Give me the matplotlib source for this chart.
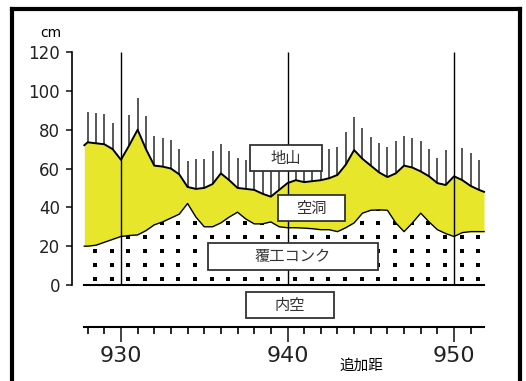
import numpy as np
import matplotlib
matplotlib.use('Agg')
from matplotlib import pyplot as plt
from matplotlib.lines import Line2D
from matplotlib.patches import Rectangle

JP = ['Noto Sans CJK JP', 'DejaVu Sans']

# station (m) of each measuring point
stations = [927.8, 928.0, 928.5, 929.0, 929.5, 930.0, 930.5, 931.0, 931.5, 932.0,
            932.5, 933.0, 933.5, 934.0, 934.5, 935.0, 935.5, 936.0, 936.5, 937.0,
            937.5, 938.0, 938.5, 939.0, 939.5, 940.0, 940.5, 941.0, 941.5, 942.0,
            942.5, 943.0, 943.5, 944.0, 944.5, 945.0, 945.5, 946.0, 946.5, 947.0,
            947.5, 948.0, 948.5, 949.0, 949.5, 950.0, 950.5, 951.0, 951.5, 951.8]

# top of cavity (ground surface), cm
upper = [72.0, 73.5, 73.0, 72.5, 70.0, 64.5, 72.0, 80.0, 70.0, 61.5,
         61.0, 60.0, 57.0, 50.5, 49.5, 50.0, 52.0, 57.5, 54.0, 50.0,
         49.5, 49.0, 47.0, 45.5, 49.0, 52.5, 54.0, 53.0, 53.5, 54.0,
         55.0, 56.7, 62.0, 69.5, 65.0, 61.5, 58.0, 55.6, 57.5, 61.5,
         60.5, 58.5, 56.0, 52.5, 51.5, 56.0, 54.0, 51.0, 49.0, 48.0]

# lining concrete thickness, cm
lower = [20.0, 20.0, 20.5, 22.0, 23.5, 25.0, 25.5, 25.8, 28.0, 31.0,
         32.5, 34.5, 36.5, 42.0, 35.0, 30.0, 30.0, 32.0, 35.0, 37.5,
         34.0, 31.5, 31.5, 32.5, 30.0, 29.5, 29.5, 29.3, 29.0, 28.5,
         28.5, 27.5, 29.5, 32.0, 37.0, 38.5, 38.7, 38.5, 32.0, 27.5,
         32.0, 37.0, 32.5, 28.5, 26.5, 25.0, 27.0, 27.5, 27.5, 27.5]

# max. reading of each point (thin lines)
line_st = [928.0, 928.5, 929.0, 929.5, 930.5, 931.0, 931.5, 932.0, 932.5, 933.0,
           933.5, 934.0, 934.5, 935.0, 935.5, 936.0, 936.5, 937.0, 937.5, 938.0,
           938.5, 939.0, 939.5, 940.5, 941.0, 941.5, 942.0, 942.5, 943.0, 943.5,
           944.0, 944.5, 945.0, 945.5, 946.0, 946.5, 947.0, 947.5, 948.0, 948.5,
           949.0, 949.5, 950.5, 951.0, 951.5]
line_top = [89.0, 88.5, 88.0, 83.5, 87.5, 96.5, 87.0, 76.8, 75.8, 74.7,
            70.0, 64.0, 65.0, 65.0, 69.0, 72.7, 69.0, 65.5, 64.5, 65.0,
            65.0, 66.0, 66.0, 66.0, 67.0, 67.0, 68.6, 70.0, 71.0, 79.0,
            86.4, 81.0, 76.0, 73.0, 71.0, 74.0, 77.0, 75.7, 74.0, 70.0,
            65.5, 69.5, 70.6, 68.0, 64.4]

main_st = [930, 940, 950]
yticks = [0, 20, 40, 60, 80, 100, 120]

fig = plt.figure(figsize=(5.26, 3.81), dpi=100)
ax = fig.add_axes([72 / 526, 9 / 381, 438 / 526, 332 / 381])
ax.set_xlim(927.06, 953.36)
ax.set_ylim(-44.8, 126.2)

# thin lines (drawn first, behind the fill)
top_at = np.interp(line_st, stations, upper)
ax.vlines(line_st, top_at, line_top, color='#2a2a2a', lw=1.1, zorder=1)

# cavity
ax.fill_between(stations, lower, upper, color='#e8e62a', lw=0, zorder=2)
ax.plot(stations, upper, color='black', lw=1.4, zorder=3)
ax.plot(stations, lower, color='black', lw=1.0, zorder=3)

# lining concrete with dot texture
conc = ax.fill_between(stations, 0, lower, color='white', lw=0, zorder=2)
gx, gy = np.meshgrid(np.arange(928.45, 952, 1.0), np.arange(3.0, 45, 7.2))
dots = ax.scatter(gx.ravel(), gy.ravel(), s=7, marker='s', color='black', lw=0, zorder=2.5)
dots.set_clip_path(conc.get_paths()[0], ax.transData)

# base line and main stations
ax.plot([stations[0], stations[-1]], [0, 0], color='black', lw=1.5, zorder=3)
ax.vlines(main_st, 0, 120, color='black', lw=1.0, zorder=4)

# spines
for s in ['top', 'right']:
    ax.spines[s].set_visible(False)
ax.spines['left'].set_bounds(0, 120)
ax.spines['left'].set_linewidth(1.2)
ax.spines['bottom'].set_position(('data', -21.6))
ax.spines['bottom'].set_bounds(stations[0], stations[-1])
ax.spines['bottom'].set_linewidth(1.5)

ax.set_yticks(yticks)
ax.tick_params(axis='y', length=4.5, width=1.2, pad=4, labelsize=12, colors='#222')
ax.set_xticks(main_st)
ax.set_xticks(np.arange(928, 952, 1), minor=True)
ax.tick_params(axis='x', which='major', length=11, width=1.2, pad=3, labelsize=16)
ax.tick_params(axis='x', which='minor', length=5, width=1.2)
ax.tick_params(colors='#222')

ax.text(925.8, 129.6, 'cm', fontsize=10, ha='center', va='center', clip_on=False)
ax.text(944.45, -41.5, '追加距', fontsize=10.5, family=JP, ha='center', va='center')

# labels in boxes
boxes = [('地山', 937.75, 942.07, 58.7, 72.1),
         ('空洞', 939.43, 943.45, 33.0, 46.35),
         ('覆工コンク', 935.23, 945.44, 7.7, 21.6),
         ('内空', 937.5, 942.8, -17.0, -3.6)]
for txt, x0, x1, y0, y1 in boxes:
    ax.add_patch(Rectangle((x0, y0), x1 - x0, y1 - y0, facecolor='white',
                           edgecolor='#333', lw=1.3, zorder=5))
    ax.text((x0 + x1) / 2, (y0 + y1) / 2, txt, family=JP, fontsize=11,
            ha='center', va='center', color='#333', zorder=6)

# frame of the figure
fig.add_artist(Line2D([12 / 526, 12 / 526], [0, 1 - 9 / 381], color='black', lw=3))
fig.add_artist(Line2D([12 / 526, 520 / 526], [1 - 9 / 381, 1 - 9 / 381], color='black', lw=3))
fig.add_artist(Line2D([520 / 526, 520 / 526], [0, 1 - 9 / 381], color='black', lw=3))

fig.savefig('out.png', dpi=100)
